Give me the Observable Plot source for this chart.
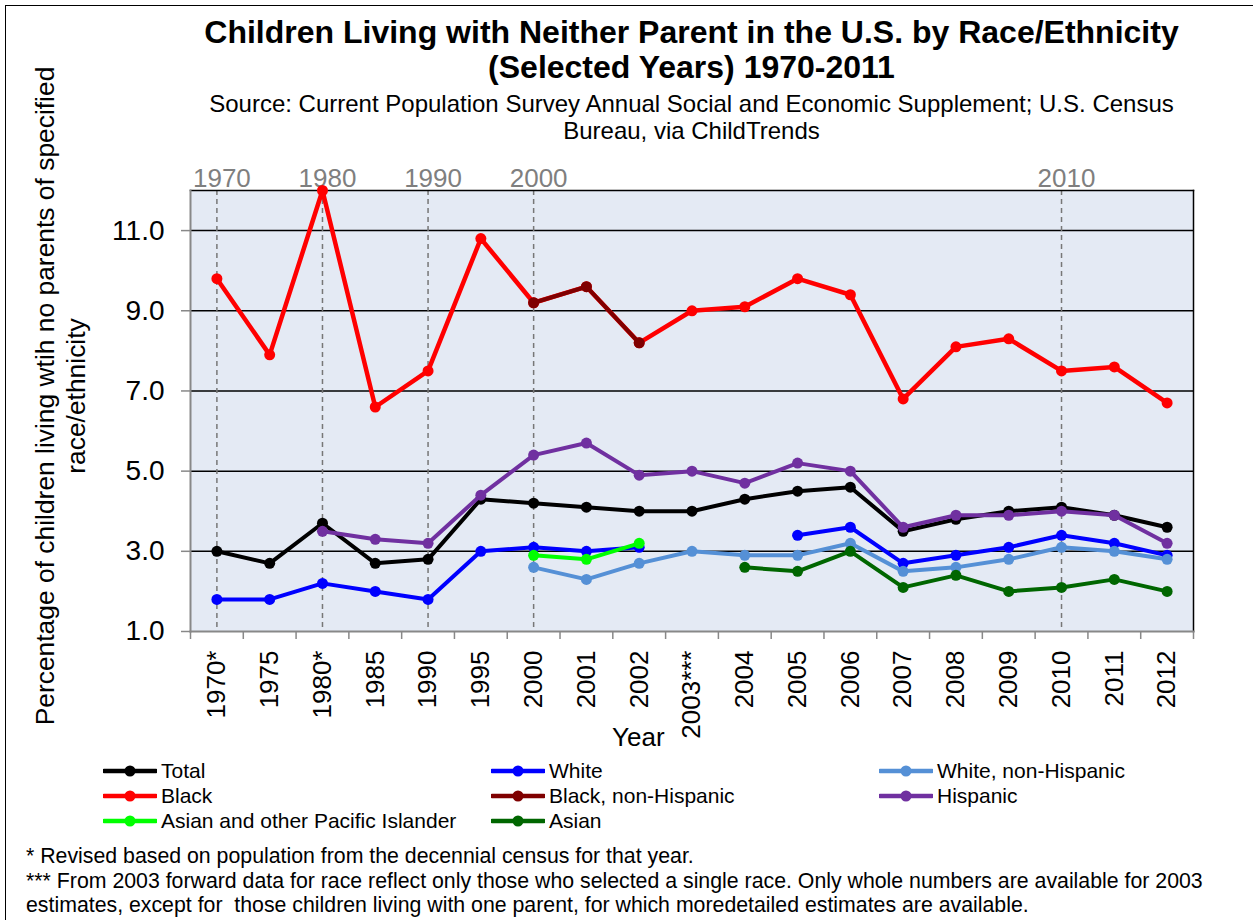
<!DOCTYPE html>
<html>
<head>
<meta charset="utf-8">
<script src="https://cdn.jsdelivr.net/npm/d3@7"></script>
<script src="https://cdn.jsdelivr.net/npm/@observablehq/plot@0.6"></script>
<style>
  html, body { margin: 0; padding: 0; background: #fff; }
  body { font-family: "Liberation Sans", Arial, sans-serif; }
  #wrap { position: relative; width: 1253px; height: 920px; overflow: hidden; }
  #border { position: absolute; left: 5px; top: 5px; width: 1250px; height: 930px; border: 1.5px solid #000; box-sizing: border-box; }
  .abs { position: absolute; }
  #title { left: 140px; width: 1103px; top: 15px; text-align: center; font-weight: bold; font-size: 32px; line-height: 35px; }
  #subtitle { left: 140px; width: 1103px; top: 90px; text-align: center; font-size: 24px; line-height: 27px; }
  #chart { left: 0; top: 140px; }
  #xlabel { left: 612px; top: 722px; font-size: 26px; }
  .leg { position: absolute; font-size: 21px; line-height: 24px; display: flex; align-items: center; white-space: nowrap; }
  .leg svg { margin-right: 4px; }
  .foot { position: absolute; left: 26px; font-size: 21.3px; white-space: pre; }
</style>
</head>
<body>
<div id="wrap">
  <div id="border"></div>
  <div id="title" class="abs">Children Living with Neither Parent in the U.S. by Race/Ethnicity<br>(Selected Years) 1970-2011</div>
  <div id="subtitle" class="abs">Source: Current Population Survey Annual Social and Economic Supplement; U.S. Census<br>Bureau, via ChildTrends</div>
  <div id="chart" class="abs"></div>
  <div id="xlabel" class="abs">Year</div>
  <div id="legend"></div>
  <div id="foot"></div>
</div>
<script>
// ---- data ----
const categories = ["1970*","1975","1980*","1985","1990","1995","2000","2001","2002","2003***","2004","2005","2006","2007","2008","2009","2010","2011","2012"];
const total            = [3.0, 2.7, 3.7, 2.7, 2.8, 4.3, 4.2, 4.1, 4.0, 4.0, 4.3, 4.5, 4.6, 3.5, 3.8, 4.0, 4.1, 3.9, 3.6];
const white            = [1.8, 1.8, 2.2, 2.0, 1.8, 3.0, 3.1, 3.0, 3.1, null, null, 3.4, 3.6, 2.7, 2.9, 3.1, 3.4, 3.2, 2.9];
const whiteNonHispanic = [null, null, null, null, null, null, 2.6, 2.3, 2.7, 3.0, 2.9, 2.9, 3.2, 2.5, 2.6, 2.8, 3.1, 3.0, 2.8];
const black            = [9.8, 7.9, 12.0, 6.6, 7.5, 10.8, 9.2, 9.6, 8.2, 9.0, 9.1, 9.8, 9.4, 6.8, 8.1, 8.3, 7.5, 7.6, 6.7];
const blackNonHispanic = [null, null, null, null, null, null, 9.2, 9.6, 8.2, null, null, null, null, null, null, null, null, null, null];
const hispanic         = [null, null, 3.5, 3.3, 3.2, 4.4, 5.4, 5.7, 4.9, 5.0, 4.7, 5.2, 5.0, 3.6, 3.9, 3.9, 4.0, 3.9, 3.2];
const asianPI          = [null, null, null, null, null, null, 2.9, 2.8, 3.2, null, null, null, null, null, null, null, null, null, null];
const asian            = [null, null, null, null, null, null, null, null, null, null, 2.6, 2.5, 3.0, 2.1, 2.4, 2.0, 2.1, 2.3, 2.0];

const seriesNames  = ["Total","White","White, non-Hispanic","Black","Black, non-Hispanic","Hispanic","Asian and other Pacific Islander","Asian"];
const seriesValues = [total, white, whiteNonHispanic, black, blackNonHispanic, hispanic, asianPI, asian];
const seriesColors = ["#000000","#0000FF","#5590D6","#FF0000","#7F0000","#7030A0","#00FF00","#006600"];

const yTicks = [1, 3, 5, 7, 9, 11];
const gridTicks = [3, 5, 7, 9, 11];
const decadeCategories = ["1970*","1980*","1990","2000","2010"];
const decadeLabels = ["1970","1980","1990","2000","2010"];
const yTitle = "Percentage of children living wtih no parents of specified\nrace/ethnicity";
const footnotes = [
  "* Revised based on population from the decennial census for that year.",
  "*** From 2003 forward data for race reflect only those who selected a single race. Only whole numbers are available for 2003",
  "estimates, except for  those children living with one parent, for which moredetailed estimates are available."
];

// ---- chart ----
const W = 1253, H = 620, mL = 190, mR = 60, mT = 50, mB = 129;
const step = (W - mL - mR) / categories.length;

const marks = [
  Plot.frame({fill: "#E4EAF4", stroke: null}),
  Plot.gridY(gridTicks, {stroke: "#000", strokeOpacity: 1, strokeWidth: 1.5}),
  Plot.ruleX(decadeCategories, {x: d => d, stroke: "#777", strokeWidth: 1.5, strokeDasharray: "5,4"}),
  Plot.text(decadeCategories, {x: d => d, text: (d, i) => decadeLabels[i], frameAnchor: "top", lineAnchor: "bottom", dy: -4, dx: 5, fontSize: 26, fill: "#7f7f7f"}),
  Plot.frame({anchor: "top", stroke: "#000", strokeWidth: 1.5}),
  Plot.frame({anchor: "right", stroke: "#000", strokeWidth: 1.5}),
  Plot.frame({anchor: "left", stroke: "#888", strokeWidth: 2}),
  Plot.frame({anchor: "bottom", stroke: "#888", strokeWidth: 2}),
  Plot.axisY(yTicks, {tickFormat: d3.format(".1f"), fontSize: 28, tickSize: 9, tickPadding: 17, stroke: "#888", strokeWidth: 1.5, fill: "#000", label: null}),
  Plot.axisX({tickSize: 8, dx: -step / 2, tickFormat: () => "", stroke: "#888", strokeWidth: 1.5, label: null}),
  Plot.axisX([categories[categories.length - 1]], {tickSize: 8, dx: step / 2, tickFormat: () => "", stroke: "#888", strokeWidth: 1.5, label: null}),
  Plot.axisX({tickSize: 0, tickRotate: -90, tickPadding: 19, fontSize: 26, fill: "#000", label: null}),
  Plot.text([yTitle], {frameAnchor: "left", text: d => d, rotate: -90, dx: -131, dy: -15, fontSize: 26.4, lineAnchor: "middle", textAnchor: "middle", lineHeight: 1.18, fill: "#000"})
];

seriesValues.forEach((vals, k) => {
  const data = categories.map((c, i) => ({cat: c, v: vals[i]}));
  const pts = data.filter(d => d.v != null);
  marks.push(Plot.line(data, {x: "cat", y: "v", stroke: seriesColors[k], strokeWidth: k === 3 ? 4.5 : 4, curve: "linear"}));
  marks.push(Plot.dot(pts, {x: "cat", y: "v", fill: seriesColors[k], r: 5.5, stroke: null}));
});

const chart = Plot.plot({
  width: W, height: H,
  marginLeft: mL, marginRight: mR, marginTop: mT, marginBottom: mB,
  x: {type: "point", domain: categories, padding: 0.5, round: false, axis: null},
  y: {domain: [1, 12], axis: null},
  style: {fontFamily: "'Liberation Sans', Arial, sans-serif", overflow: "visible", background: "transparent"},
  marks
});
document.getElementById("chart").appendChild(chart);

// ---- legend ----
const legendPos = [
  [103, 771], [491, 771], [879, 771],
  [103, 796], [491, 796], [879, 796],
  [103, 821], [491, 821]
];
const legend = document.getElementById("legend");
seriesNames.forEach((name, k) => {
  const [lx, ly] = legendPos[k];
  const div = document.createElement("div");
  div.className = "leg";
  div.style.left = lx + "px";
  div.style.top = (ly - 12) + "px";
  div.innerHTML = `<svg width="54" height="14"><line x1="1" y1="7" x2="53" y2="7" stroke="${seriesColors[k]}" stroke-width="4.5" stroke-linecap="round"/><circle cx="27" cy="7" r="5.5" fill="${seriesColors[k]}"/></svg><span>${name}</span>`;
  legend.appendChild(div);
});

// ---- footnotes ----
const foot = document.getElementById("foot");
const footY = [856, 881, 905];
footnotes.forEach((t, i) => {
  const d = document.createElement("div");
  d.className = "foot";
  d.style.top = (footY[i] - 12) + "px";
  d.textContent = t;
  foot.appendChild(d);
});
</script>
</body>
</html>
